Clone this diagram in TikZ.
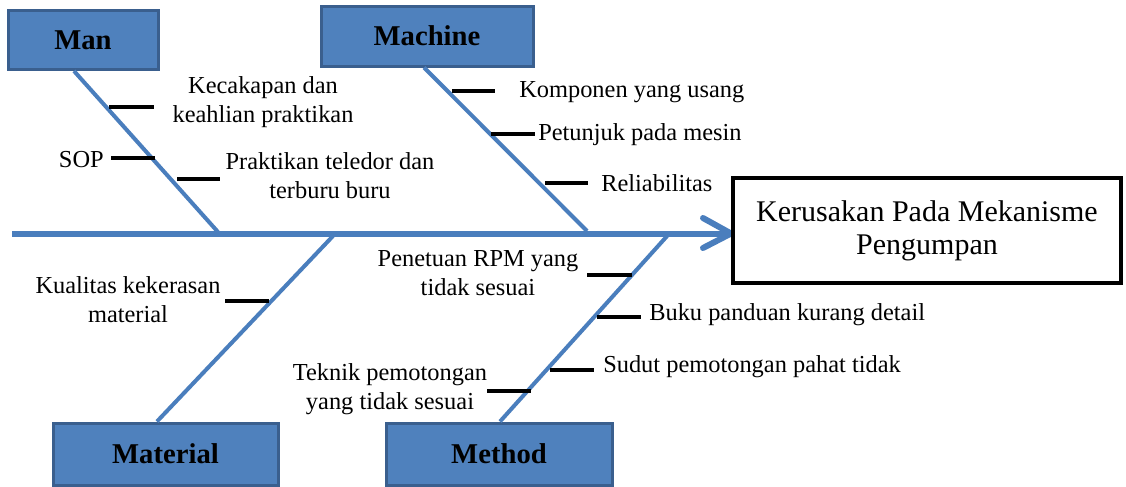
\documentclass[tikz,border=0pt]{standalone}
\usepackage{fontspec}
\setmainfont{Liberation Serif}
\definecolor{boxfill}{HTML}{4F81BD}
\definecolor{boxline}{HTML}{3A5F8E}
\definecolor{bone}{HTML}{4A7EBD}
\begin{document}
\begin{tikzpicture}[x=0.75pt,y=-0.75pt,
  catbox/.style={draw=boxline, fill=boxfill, line width=2.25pt, inner sep=0pt,
    font=\fontsize{21.5}{24}\selectfont\bfseries},
  effbox/.style={draw=black, fill=white, line width=3pt, inner sep=0pt, align=center,
    font=\fontsize{22.5}{24.75}\selectfont},
  bonel/.style={draw=bone, line width=3pt},
  spinel/.style={draw=bone, line width=4.5pt},
  arrowl/.style={draw=bone, line width=4.5pt, line cap=round, line join=round},
  rib/.style={draw=black, line width=2.6pt},
  lbl/.style={inner sep=0pt, align=center, font=\fontsize{18.3}{21.75}\selectfont},
]
\useasboundingbox (0,0) rectangle (1126,486);
\fill[white] (0,0) rectangle (1126,486);

% spine and arrow
\coordinate (tail) at (12,233.5);
\coordinate (tip) at (731,233.5);
\coordinate (armU) at (703,218);
\coordinate (armL) at (703,248);
\coordinate (jman) at (218,232);
\coordinate (jmach) at (587,231);
\coordinate (jmat) at (333,236);
\coordinate (jmeth) at (668,235);
\draw[spinel] (tail) -- (tip);
\draw[arrowl] (armU) -- (tip) -- (armL);

% category boxes
\node[catbox, minimum width=112.5pt, minimum height=44.25pt] (man) at (83,40) {Man};
\node[catbox, minimum width=159pt, minimum height=45pt] (machine) at (427,36) {Machine};
\node[catbox, minimum width=168.75pt, minimum height=46.5pt] (material) at (165.5,454) {Material};
\node[catbox, minimum width=169.5pt, minimum height=46.5pt] (method) at (499,454) {Method};

% effect box
\node[effbox, minimum width=291pt, minimum height=78.75pt] (effect) at (927,230.5)
  {Kerusakan Pada Mekanisme\\Pengumpan};

% bones
\draw[bonel] ([xshift=-6.75pt]man.south) -- (jman);
\draw[bonel] ([xshift=-2.25pt]machine.south) -- (jmach);
\draw[bonel] ([xshift=-6.4pt]material.north) -- (jmat);
\draw[bonel] ([xshift=0.75pt]method.north) -- (jmeth);

% ribs: Man
\draw[rib] (109,107) coordinate (m1a) -- (154,107) coordinate (m1b);
\draw[rib] (111,158) coordinate (m2a) -- (155,158) coordinate (m2b);
\draw[rib] (177,179) coordinate (m3a) -- (220,179) coordinate (m3b);
% ribs: Machine
\draw[rib] (452,91) coordinate (c1a) -- (495,91) coordinate (c1b);
\draw[rib] (491,134) coordinate (c2a) -- (535,134) coordinate (c2b);
\draw[rib] (545,183) coordinate (c3a) -- (588,183) coordinate (c3b);
% ribs: Material
\draw[rib] (225,301) coordinate (t1a) -- (269,301) coordinate (t1b);
% ribs: Method
\draw[rib] (587,275) coordinate (d1a) -- (632,275) coordinate (d1b);
\draw[rib] (597,317) coordinate (d2a) -- (641,317) coordinate (d2b);
\draw[rib] (550,370) coordinate (d3a) -- (594,370) coordinate (d3b);
\draw[rib] (487,391) coordinate (d4a) -- (531,391) coordinate (d4b);

% labels
\node[lbl] (kecakapan) at (263,102.5) {Kecakapan dan\\keahlian praktikan};
\node[lbl, anchor=east] (sop) at (104,160) {SOP};
\node[lbl] (praktikan) at (330,175.5) {Praktikan teledor dan\\terburu buru};
\node[lbl, anchor=west] (komponen) at (519,92) {Komponen yang usang};
\node[lbl, anchor=west] (petunjuk) at (538,135) {Petunjuk pada mesin};
\node[lbl, anchor=west] (reliabilitas) at (601,183) {Reliabilitas};
\node[lbl] (kualitas) at (128,300) {Kualitas kekerasan\\material};
\node[lbl] (penetuan) at (478,273.5) {Penetuan RPM yang\\tidak sesuai};
\node[lbl] (teknik) at (390,389) {Teknik pemotongan\\yang tidak sesuai};
\node[lbl, anchor=west] (buku) at (649,315) {Buku panduan kurang detail};
\node[lbl, anchor=west] (sudut) at (603,367) {Sudut pemotongan pahat tidak};
\end{tikzpicture}
\end{document}
